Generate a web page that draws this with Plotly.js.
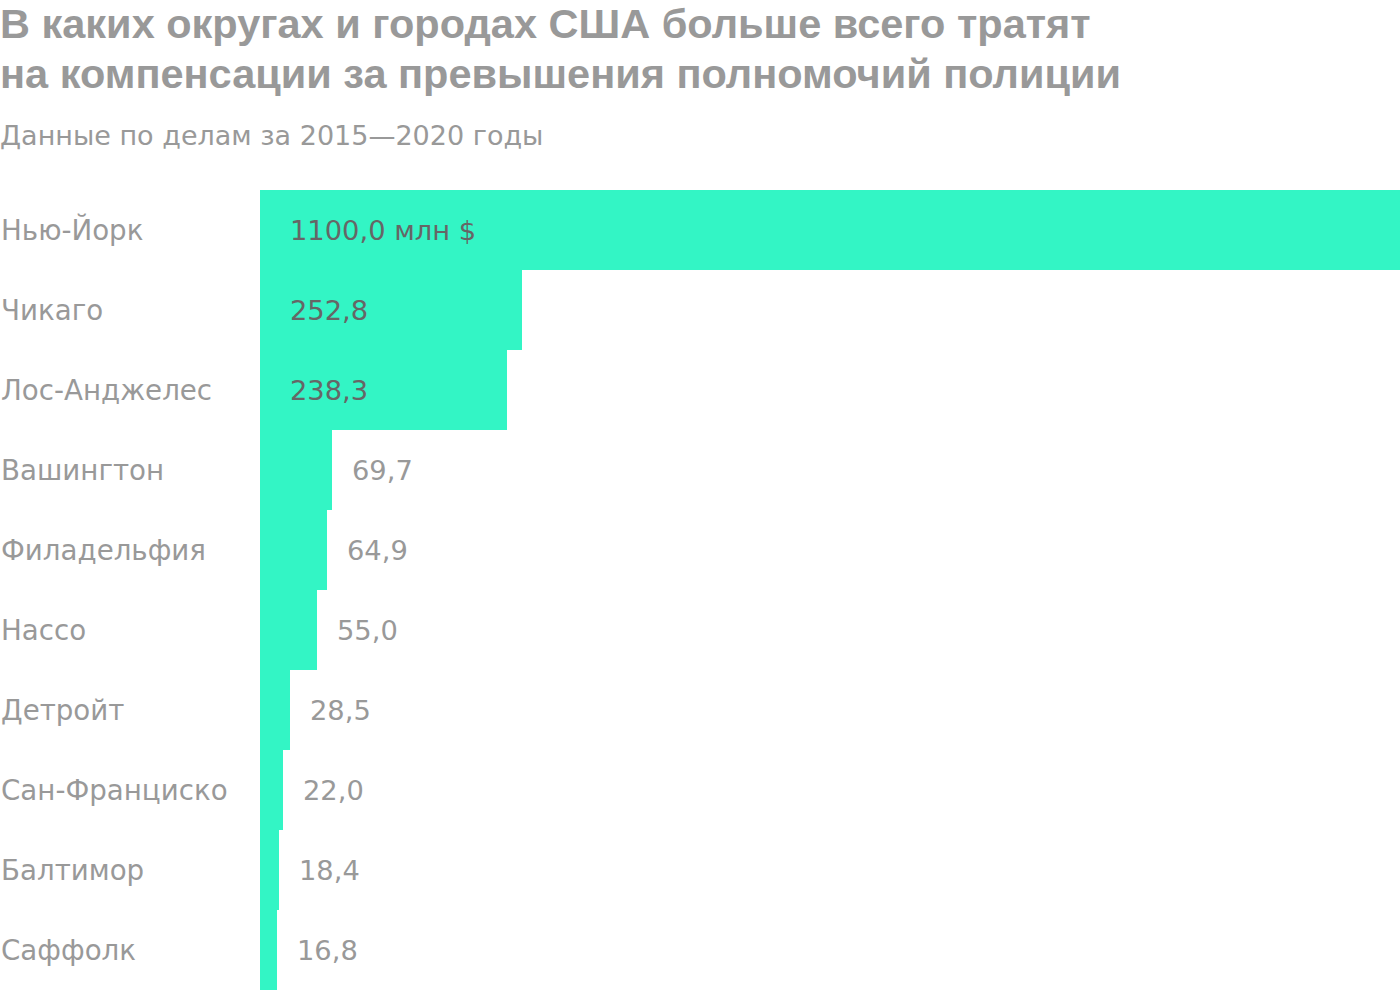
<!DOCTYPE html>
<html>
<head>
<meta charset="utf-8">
<script src="https://cdn.plot.ly/plotly-3.0.1.min.js"></script>
<style>html,body{margin:0;padding:0;background:#fff;}#chart{width:1400px;height:990px;}</style>
</head>
<body>
<div id="chart"></div>
<script>
const categories = ["Нью-Йорк","Чикаго","Лос-Анджелес","Вашингтон","Филадельфия","Нассо","Детройт","Сан-Франциско","Балтимор","Саффолк"];
const values = [1100.0,252.8,238.3,69.7,64.9,55.0,28.5,22.0,18.4,16.8];
const valueLabels = ["1100,0 млн $","252,8","238,3","69,7","64,9","55,0","28,5","22,0","18,4","16,8"];
const titleLines = ["В каких округах и городах США больше всего тратят", "на компенсации за превышения полномочий полиции"];
const subtitleText = "Данные по делам за 2015—2020 годы";

const FONT = "'DejaVu Sans', sans-serif";
const TFONT = "'Liberation Sans', Arial, sans-serif";
const annotations = [];
categories.forEach((c, i) => {
  annotations.push({
    xref: 'paper', yref: 'y', x: 0, y: c, xanchor: 'left', yanchor: 'middle',
    xshift: -261, text: c, showarrow: false,
    font: {family: FONT, size: 27.7, color: '#999999'}
  });
  const inside = values[i] > 100;
  annotations.push({
    xref: 'x', yref: 'y', x: inside ? 0 : values[i], y: c,
    xanchor: 'left', yanchor: 'middle', xshift: inside ? 28 : 18,
    text: valueLabels[i], showarrow: false,
    font: {family: FONT, size: 27.3, color: inside ? '#666666' : '#999999'}
  });
});
annotations.push({
  xref: 'paper', yref: 'paper', x: 0, y: 1, xanchor: 'left', yanchor: 'bottom',
  xshift: -262, yshift: 37, text: subtitleText, showarrow: false,
  font: {family: FONT, size: 27, color: '#999999'}
});
titleLines.forEach((t, i) => {
  annotations.push({
    xref: 'paper', yref: 'paper', x: 0, y: 1, xanchor: 'left', yanchor: 'middle', align: 'left',
    xshift: -262, yshift: 167 - 50 * i, text: '<b>' + t + '</b>', showarrow: false,
    font: {family: TFONT, size: 41.5, color: '#999999'}
  });
});

const data = [{
  type: 'bar', orientation: 'h', x: values, y: categories,
  marker: {color: '#33F5C5', line: {width: 0}},
  hoverinfo: 'none'
}];

const layout = {
  width: 1400, height: 990,
  margin: {l: 260, r: 0, t: 190, b: 0, pad: 0},
  paper_bgcolor: '#ffffff', plot_bgcolor: '#ffffff',
  bargap: 0,
  showlegend: false,
  xaxis: {range: [0, 1100], visible: false, fixedrange: true},
  yaxis: {autorange: 'reversed', visible: false, fixedrange: true},
  annotations: annotations
};

Plotly.newPlot('chart', data, layout, {displayModeBar: false, staticPlot: true});
</script>
</body>
</html>
